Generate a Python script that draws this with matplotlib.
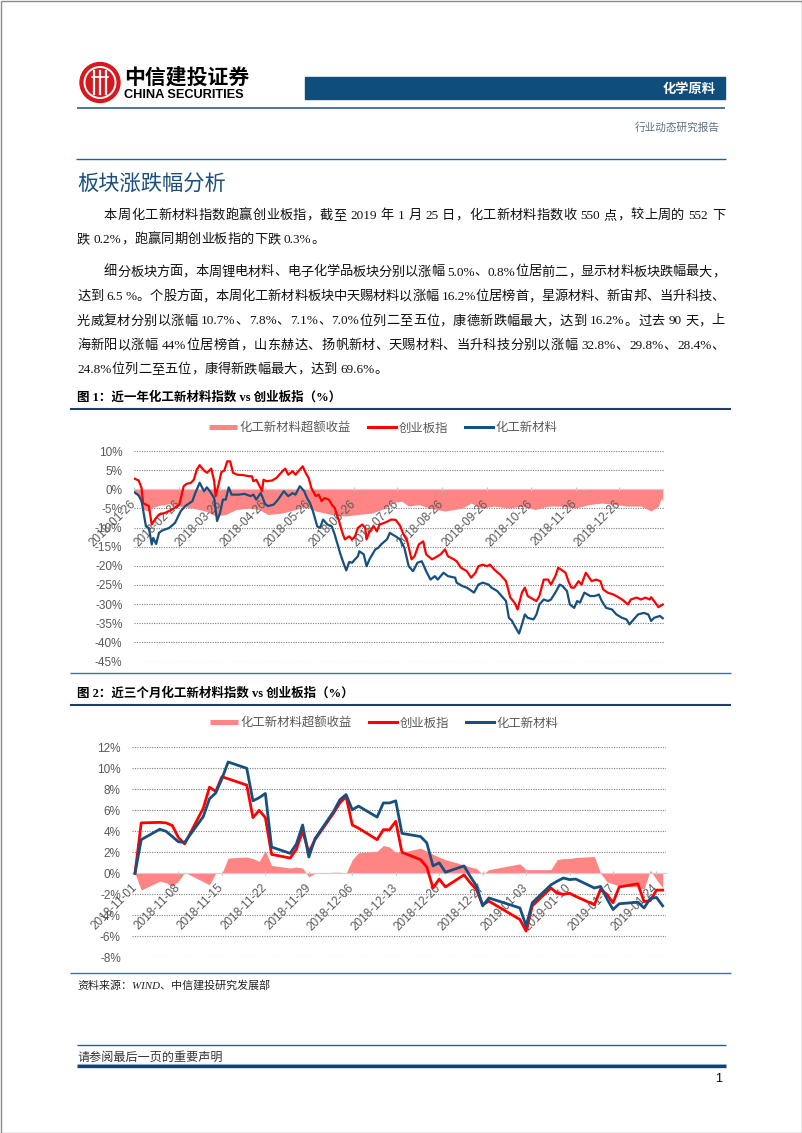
import re
import pandas as pd
import matplotlib
matplotlib.use("Agg")
import matplotlib.pyplot as plt
from matplotlib.lines import Line2D
from matplotlib.patches import Circle, Rectangle

# ---------------- data ----------------
# figure 1: one year, x given as days after start_1y
start_1y = "2018-01-26"
end_1y = "2019-01-25"
cyb_days_1y = [0, 3, 5, 6, 10, 12, 15, 17, 21, 26,
               31, 34, 36, 39, 41, 43, 45, 48, 50, 53,
               55, 56, 58, 60, 62, 64, 66, 68, 71, 75,
               79, 81, 82, 84, 87, 88, 89, 91, 95, 98,
               102, 104, 106, 109, 111, 113, 116, 118, 120, 122,
               125, 127, 129, 131, 134, 136, 138, 141, 143, 145,
               148, 150, 152, 154, 157, 159, 160, 162, 165, 167,
               169, 172, 175, 177, 180, 183, 185, 188, 191, 193,
               196, 199, 201, 205, 208, 211, 214, 216, 220, 222,
               225, 229, 232, 235, 237, 240, 243, 245, 248, 252,
               256, 259, 262, 264, 267, 269, 271, 275, 277, 279,
               282, 285, 287, 290, 292, 294, 297, 299, 301, 303,
               306, 308, 311, 315, 318, 321, 323, 326, 330, 332,
               336, 340, 342, 346, 349, 352, 355, 356, 358, 361,
               364]
cyb_1y = [2.8, 2.3, 0.3, -3.6, -4.4, -9.2, -7.5, -6.6, -6.2, -5.3,
          -4.0, 0.8, 1.4, 1.7, 2.5, 5.1, 6.3, 4.9, 4.3, 5.4,
          2.1, -1.8, 1.2, 4.5, 4.9, 7.3, 7.3, 4.3, 3.8, 3.7,
          3.4, 3.4, 2.1, 2.5, 0.3, -0.5, 2.5, 2.1, 2.3, 3.0,
          4.7, 5.4, 3.8, 4.7, 3.8, 4.7, 6.0, 4.3, 3.0, 0.3,
          -1.8, -1.4, -3.1, -2.3, -2.7, -4.0, -4.9, -8.3, -11.0, -13.1,
          -12.3, -13.1, -12.3, -10.1, -9.2, -10.1, -13.1, -11.0, -9.7, -11.0,
          -9.2, -8.8, -8.3, -7.9, -8.0, -9.5, -11.4, -13.6, -18.3, -17.5,
          -14.4, -13.6, -17.0, -18.3, -17.7, -17.0, -15.7, -17.5, -18.3, -18.8,
          -20.5, -21.4, -23.1, -21.8, -20.1, -19.7, -20.1, -19.7, -21.0, -22.3,
          -24.0, -28.3, -29.7, -31.4, -27.0, -25.7, -27.9, -28.8, -29.2, -27.9,
          -23.6, -23.6, -24.9, -22.7, -20.5, -21.0, -21.8, -24.0, -25.7, -25.7,
          -24.0, -24.9, -21.8, -24.0, -23.6, -24.0, -26.2, -27.0, -27.5, -27.9,
          -28.8, -30.1, -28.8, -28.3, -28.8, -28.3, -28.8, -28.2, -29.2, -30.8,
          -30.1]
hg_days_1y = [0, 3, 5, 8, 10, 12, 13, 15, 17, 19,
              24, 28, 32, 35, 40, 42, 45, 48, 50, 52,
              55, 57, 59, 61, 63, 65, 67, 72, 76, 80,
              82, 84, 87, 88, 90, 92, 96, 99, 103, 106,
              109, 111, 114, 117, 119, 121, 123, 126, 128, 130,
              133, 136, 138, 142, 144, 146, 148, 150, 152, 154,
              155, 158, 160, 162, 166, 168, 170, 174, 176, 180,
              183, 186, 189, 192, 195, 198, 201, 204, 207, 209,
              213, 216, 221, 222, 226, 229, 234, 237, 240, 244,
              246, 250, 253, 256, 258, 260, 262, 265, 267, 269,
              271, 275, 277, 279, 282, 285, 287, 290, 293, 295,
              298, 300, 303, 305, 307, 310, 314, 317, 320, 322,
              325, 329, 332, 336, 339, 341, 344, 347, 351, 354,
              356, 358, 362, 364]
hg_1y = [-0.8, -1.6, -3.1, -9.7, -10.1, -14.4, -12.7, -14.3, -11.4, -10.8,
         -10.1, -8.8, -5.7, -4.4, -3.1, -1.0, 1.7, -0.5, 0.5, -0.5,
         -2.3, -8.3, -6.2, -2.7, -2.7, 0.5, -1.4, -1.4, -1.2, -1.8,
         -1.4, -2.7, -1.0, -1.8, -3.8, -4.4, -4.0, -2.7, -0.5, -1.8,
         -1.0, -1.4, 0.8, -0.5, -2.3, -3.6, -5.7, -9.7, -10.1, -7.9,
         -9.2, -9.7, -11.8, -17.0, -19.2, -21.2, -19.0, -19.2, -18.3, -17.5,
         -16.2, -17.0, -20.1, -18.3, -15.7, -15.3, -14.4, -13.1, -11.4, -12.3,
         -13.1, -15.3, -20.1, -21.4, -19.2, -18.8, -21.4, -23.6, -22.7, -23.6,
         -21.8, -22.7, -23.1, -24.4, -25.3, -25.7, -27.0, -24.9, -24.4, -24.9,
         -25.7, -26.6, -27.9, -29.2, -33.6, -34.3, -35.7, -37.7, -35.3, -32.7,
         -33.6, -34.0, -32.7, -30.1, -28.8, -29.2, -28.8, -27.0, -24.9, -25.3,
         -26.6, -30.1, -31.0, -29.2, -29.6, -27.0, -27.9, -27.9, -27.5, -29.2,
         -31.0, -31.4, -32.7, -33.6, -34.0, -35.3, -34.0, -32.7, -32.3, -32.7,
         -34.4, -33.6, -33.1, -33.7]
ex_days_1y = [0, 3, 6, 10, 12, 17, 24, 31, 40, 49,
              56, 63, 70, 79, 86, 92, 102, 111, 118, 125,
              136, 145, 154, 164, 173, 177, 184, 189, 196, 203,
              214, 226, 232, 239, 248, 258, 267, 276, 285, 294,
              304, 313, 322, 331, 340, 349, 356, 361, 363, 364]
ex_1y = [-0.5, -2.3, -5.3, -5.7, -4.9, -4.2, -3.8, -4.4, -4.9, -5.7,
         -7.0, -6.6, -5.3, -4.9, -5.3, -6.6, -6.2, -5.3, -4.4, -5.7,
         -6.6, -7.0, -6.6, -6.2, -4.9, -3.6, -3.1, -4.4, -4.0, -4.9,
         -5.7, -4.9, -3.6, -4.9, -4.4, -4.9, -4.4, -5.3, -4.4, -4.4,
         -4.9, -4.0, -3.6, -4.0, -4.4, -4.4, -5.7, -4.4, -2.3, -3.1]

# figure 2: last three months, one value per trading day
dates_3m = ["2018-11-01", "2018-11-02", "2018-11-05", "2018-11-06", "2018-11-07",
            "2018-11-08", "2018-11-09", "2018-11-12", "2018-11-13", "2018-11-14",
            "2018-11-15", "2018-11-16", "2018-11-19", "2018-11-20", "2018-11-21",
            "2018-11-22", "2018-11-23", "2018-11-26", "2018-11-27", "2018-11-28",
            "2018-11-29", "2018-11-30", "2018-12-03", "2018-12-04", "2018-12-05",
            "2018-12-06", "2018-12-07", "2018-12-10", "2018-12-11", "2018-12-12",
            "2018-12-13", "2018-12-14", "2018-12-17", "2018-12-18", "2018-12-19",
            "2018-12-20", "2018-12-21", "2018-12-24", "2018-12-25", "2018-12-26",
            "2018-12-27", "2018-12-28", "2019-01-02", "2019-01-03", "2019-01-04",
            "2019-01-07", "2019-01-08", "2019-01-09", "2019-01-10", "2019-01-11",
            "2019-01-14", "2019-01-15", "2019-01-16", "2019-01-17", "2019-01-18",
            "2019-01-21", "2019-01-22", "2019-01-23", "2019-01-24", "2019-01-25"]
cyb_3m = [0.0, 4.8, 4.85, 4.8, 4.55, 3.4, 2.8, 6.2, 8.2, 7.8,
          9.2, 9.0, 8.4, 5.3, 6.0, 5.3, 1.8, 1.45, 2.3, 4.0,
          2.0, 3.2, 5.75, 6.7, 7.3, 4.6, 4.3, 3.2, 4.15, 4.15,
          4.95, 2.0, 1.3, 0.6, -1.4, -0.55, -1.3, -0.15, -0.9, -1.55,
          -3.0, -2.65, -4.4, -5.5, -3.1, -1.4, -1.9, -2.0, -1.9, -2.2,
          -3.0, -1.5, -2.0, -2.8, -1.3, -1.0, -2.7, -2.6, -1.6, -1.6]
hg_3m = [0.0, 3.2, 4.2, 4.0, 3.5, 3.0, 2.95, 5.4, 7.1, 7.65,
         9.0, 10.6, 10.0, 6.9, 7.2, 7.6, 2.5, 1.9, 2.8, 4.6,
         1.55, 3.3, 5.9, 7.0, 7.5, 6.05, 6.4, 5.35, 6.7, 6.7,
         6.9, 3.8, 3.5, 2.9, 0.7, 1.0, 0.1, 0.7, -0.3, -1.2,
         -3.1, -2.35, -3.3, -5.0, -2.8, -1.1, -0.75, -0.45, -0.6, -0.55,
         -1.4, -1.25, -2.4, -3.45, -2.9, -2.75, -3.3, -2.4, -2.3, -3.1]
ex_3m = [0.0, -1.6, -0.75, -0.9, -1.25, -0.75, 0.1, -0.8, -1.1, 0.0,
         0.0, 1.45, 1.55, 1.4, 1.15, 2.15, 0.75, 0.5, 0.6, 0.5,
         -0.35, 0.0, 0.1, 0.1, 0.0, 1.3, 1.95, 2.1, 2.65, 2.5,
         2.0, 2.0, 2.4, 2.1, 1.8, 1.55, 1.3, 0.8, 0.6, 0.45,
         -0.1, 0.35, 0.9, 0.35, 0.35, 0.35, 1.3, 1.4, 1.4, 1.5,
         1.6, 0.0, -0.8, -1.0, -1.2, -1.3, -1.5, 0.3, -0.6, -1.4]

legend_labels = ["化工新材料超额收益", "创业板指", "化工新材料"]
yticks_1y = list(range(-45, 11, 5))
yticks_3m = list(range(-8, 13, 2))

body = [
    "本周化工新材料指数跑赢创业板指，截至 2019 年 1 月 25 日，化工新材料指数收 550 点，较上周的 552 下",
    "跌 0.2%，跑赢同期创业板指的下跌 0.3%。",
    "细分板块方面，本周锂电材料、电子化学品板块分别以涨幅 5.0%、0.8%位居前二，显示材料板块跌幅最大，",
    "达到 6.5 %。个股方面，本周化工新材料板块中天赐材料以涨幅 16.2%位居榜首，星源材料、新宙邦、当升科技、",
    "光威复材分别以涨幅 10.7%、7.8%、7.1%、7.0%位列二至五位，康德新跌幅最大，达到 16.2%。过去 90 天，上",
    "海新阳以涨幅 44%位居榜首，山东赫达、扬帆新材、天赐材料、当升科技分别以涨幅 32.8%、29.8%、28.4%、",
    "24.8%位列二至五位，康得新跌幅最大，达到 69.6%。",
]

# ---------------- styling ----------------
W, H = 802, 1133
CJK = "Noto Sans CJK SC"
SERIF = ["Liberation Serif", CJK]
ARIAL = ["Liberation Sans", CJK]
RED = "#FF0000"
BLUE = "#17507E"
PINK = "#FF8585"
NAVY = "#0E4D7C"
GRAY = "#595959"
RULE = "#2E5C8A"

plt.rcParams["font.family"] = [CJK, "DejaVu Sans"]
plt.rcParams["axes.unicode_minus"] = False

fig = plt.figure(figsize=(W / 100, H / 100), dpi=100)
page = fig.add_axes([0, 0, 1, 1])  # pixel coordinates, y downwards
page.set_xlim(0, W)
page.set_ylim(H, 0)
page.axis("off")
renderer = fig.canvas.get_renderer()


def hline(y, x0, x1, color=RULE, lw=1.0):
    page.plot([x0, x1], [y, y], color=color, lw=lw, solid_capstyle="butt")


def text_line(s, x0, y, x1=None, size=9.5, **kw):
    """Place a mixed CJK / latin line token by token, justified up to x1."""
    toks = re.findall(r"[A-Za-z0-9.%]+| |[^A-Za-z0-9.% ]", s)
    space = size * 100 / 72 * 0.25
    items = []
    for tk in toks:
        if tk == " ":
            items.append((None, space))
        else:
            t = page.text(x0, y, tk, fontsize=size, va="baseline", ha="left", **kw)
            items.append((t, t.get_window_extent(renderer).width))
    extra = 0
    if x1 is not None and len(items) > 1:
        extra = (x1 - x0 - sum(w for _, w in items)) / (len(items) - 1)
    x = x0
    for t, w in items:
        if t is not None:
            t.set_x(x)
        x += w + extra


# --- page frame and header ---
page.add_patch(Rectangle((0.5, 0.5), W - 1, H - 1, fill=False, ec="#8c8c8c", lw=1))
page.add_patch(Circle((100, 82.5), 20, color="#D7191F"))
page.add_patch(Circle((100, 82.5), 15.5, fill=False, ec="white", lw=1.4))
for dx in (-6, 0, 6):
    page.plot([100 + dx, 100 + dx], [71, 94], color="white", lw=1.6)
page.plot([92, 108], [76.5, 76.5], color="white", lw=1.2)
page.text(124, 77, "中信建投证券", fontsize=15, fontweight="bold", va="center", family=CJK)
page.text(124.5, 94.5, "CHINA SECURITIES", fontsize=9.2, fontweight="bold", va="center",
          family="Liberation Sans")
page.add_patch(Rectangle((305, 77), 420, 22, color=NAVY))
page.text(716, 88.5, "化学原料", color="white", fontsize=9.5, fontweight="bold",
          ha="right", va="center")
hline(107.5, 77, 725, lw=1.2)
page.text(720, 127, "行业动态研究报告", fontsize=7.7, color="#5F6E7E", ha="right", va="center")

# --- section heading and body text ---
hline(158.5, 76, 726, lw=1.0)
page.text(77, 185, "板块涨跌幅分析", fontsize=15.3, color="#1B4E7E", va="center")
body_pos = [(104, 219, 725), (77, 243, None), (104, 275.5, 725), (77, 300, 725),
            (77, 324.5, 725), (77, 349, 725), (77, 373, None)]
for s, (x0, y, x1) in zip(body, body_pos):
    text_line(s, x0, y, x1, size=9.5, family=SERIF, color="#111111")


def chart_title(s, y):
    page.text(77, y, s, fontsize=9, fontweight="bold", va="baseline", family=SERIF)
    hline(y + 8, 70, 731, color="#1F3F66", lw=1.5)


def legend_at(cx, cy):
    handles = [Line2D([], [], color=PINK, lw=3.6, solid_capstyle="butt"),
               Line2D([], [], color=RED, lw=2.2),
               Line2D([], [], color=BLUE, lw=2.2)]
    fig.legend(handles, legend_labels, loc="center", bbox_to_anchor=(cx / W, 1 - cy / H),
               ncol=3, frameon=False, prop={"family": CJK, "size": 8.9}, labelcolor=GRAY,
               handlelength=2.2, handletextpad=0.25, columnspacing=1.4,
               borderpad=0, borderaxespad=0)


def draw_chart(rect, x_red, red, x_blue, blue, x_ex, ex, xlim, ticks, yticks, lw):
    ax = fig.add_axes(rect)
    ax.patch.set_alpha(0)
    # move the date axis onto the 0% line first: this rebuilds the ticks
    for side in ("top", "right", "left"):
        ax.spines[side].set_visible(False)
    ax.spines["bottom"].set_position(("data", 0))
    ax.spines["bottom"].set_color("#D0D0D0")
    ax.spines["bottom"].set_linewidth(0.8)

    ax.fill_between(x_ex, ex, 0, color=PINK, lw=0, zorder=1)
    ax.plot(x_red, red, color=RED, lw=lw, zorder=3)
    ax.plot(x_blue, blue, color=BLUE, lw=lw, zorder=3)
    ax.set_xlim(*xlim)
    ax.set_ylim(yticks[0], yticks[-1])

    ax.set_yticks(yticks, [f"{v}%" for v in yticks])
    ax.set_xticks(ticks, [d.strftime("%Y-%m-%d") for d in ticks])
    ax.tick_params(axis="y", length=0, pad=8, labelsize=8.5, labelcolor=GRAY)
    ax.tick_params(axis="x", direction="inout", length=3.5, width=0.8, color="#BFBFBF",
                   pad=7.5, labelsize=8.5, labelcolor=GRAY, labelrotation=45)
    for lab in ax.get_yticklabels():
        lab.set_family(ARIAL)
    for lab in ax.get_xticklabels():
        lab.set_family(ARIAL)
        lab.set_ha("right")
        lab.set_va("center")
        lab.set_rotation_mode("anchor")
    ax.yaxis.grid(True, color="#7f7f7f", lw=0.8, ls=(0, (1, 1.2)))
    ax.yaxis.set_zorder(0.5)
    return ax


half_day = pd.Timedelta(hours=12)

# --- figure 1 ---
chart_title("图 1：近一年化工新材料指数 vs 创业板指（%）", 400.5)
legend_at(383.5, 428)
t0 = pd.Timestamp(start_1y)
ticks_1y = pd.date_range(start_1y, periods=12, freq=pd.DateOffset(months=1))
draw_chart([133.6 / W, 1 - 661.5 / H, 529.9 / W, 210.5 / H],
           t0 + pd.to_timedelta(cyb_days_1y, unit="D"), cyb_1y,
           t0 + pd.to_timedelta(hg_days_1y, unit="D"), hg_1y,
           t0 + pd.to_timedelta(ex_days_1y, unit="D"), ex_1y,
           (t0 - half_day, pd.Timestamp(end_1y) + half_day), ticks_1y, yticks_1y, 1.6)
hline(672.5, 70, 731, color="#41719C", lw=1.0)

# --- figure 2 ---
chart_title("图 2：近三个月化工新材料指数 vs 创业板指（%）", 696.5)
legend_at(384.5, 723)
d3 = pd.to_datetime(dates_3m)
ticks_3m = pd.date_range(dates_3m[0], "2019-01-24", freq="7D")
draw_chart([131.9 / W, 1 - 957.3 / H, 533.9 / W, 210 / H],
           d3, cyb_3m, d3, hg_3m, d3, ex_3m,
           (d3[0] - half_day, d3[-1] + half_day), ticks_3m, yticks_3m, 2.0)
hline(972.5, 70, 731, color="#41719C", lw=1.0)
page.text(77, 985, "资料来源：WIND、中信建投研究发展部", fontsize=7.9, style="italic",
          va="center", family=SERIF, color="#222222")

# --- footer ---
hline(1045, 77, 726, lw=1.0)
page.text(77, 1057, "请参阅最后一页的重要声明", fontsize=8.7, color="#333333", va="center")
hline(1063.5, 77, 726, color="#9DC3E6", lw=0.8)
hline(1066, 77, 726, color="#17406D", lw=2.4)
page.text(722, 1079, "1", fontsize=9, ha="right", va="center", family="Liberation Sans")

fig.savefig("out.png", dpi=100)
